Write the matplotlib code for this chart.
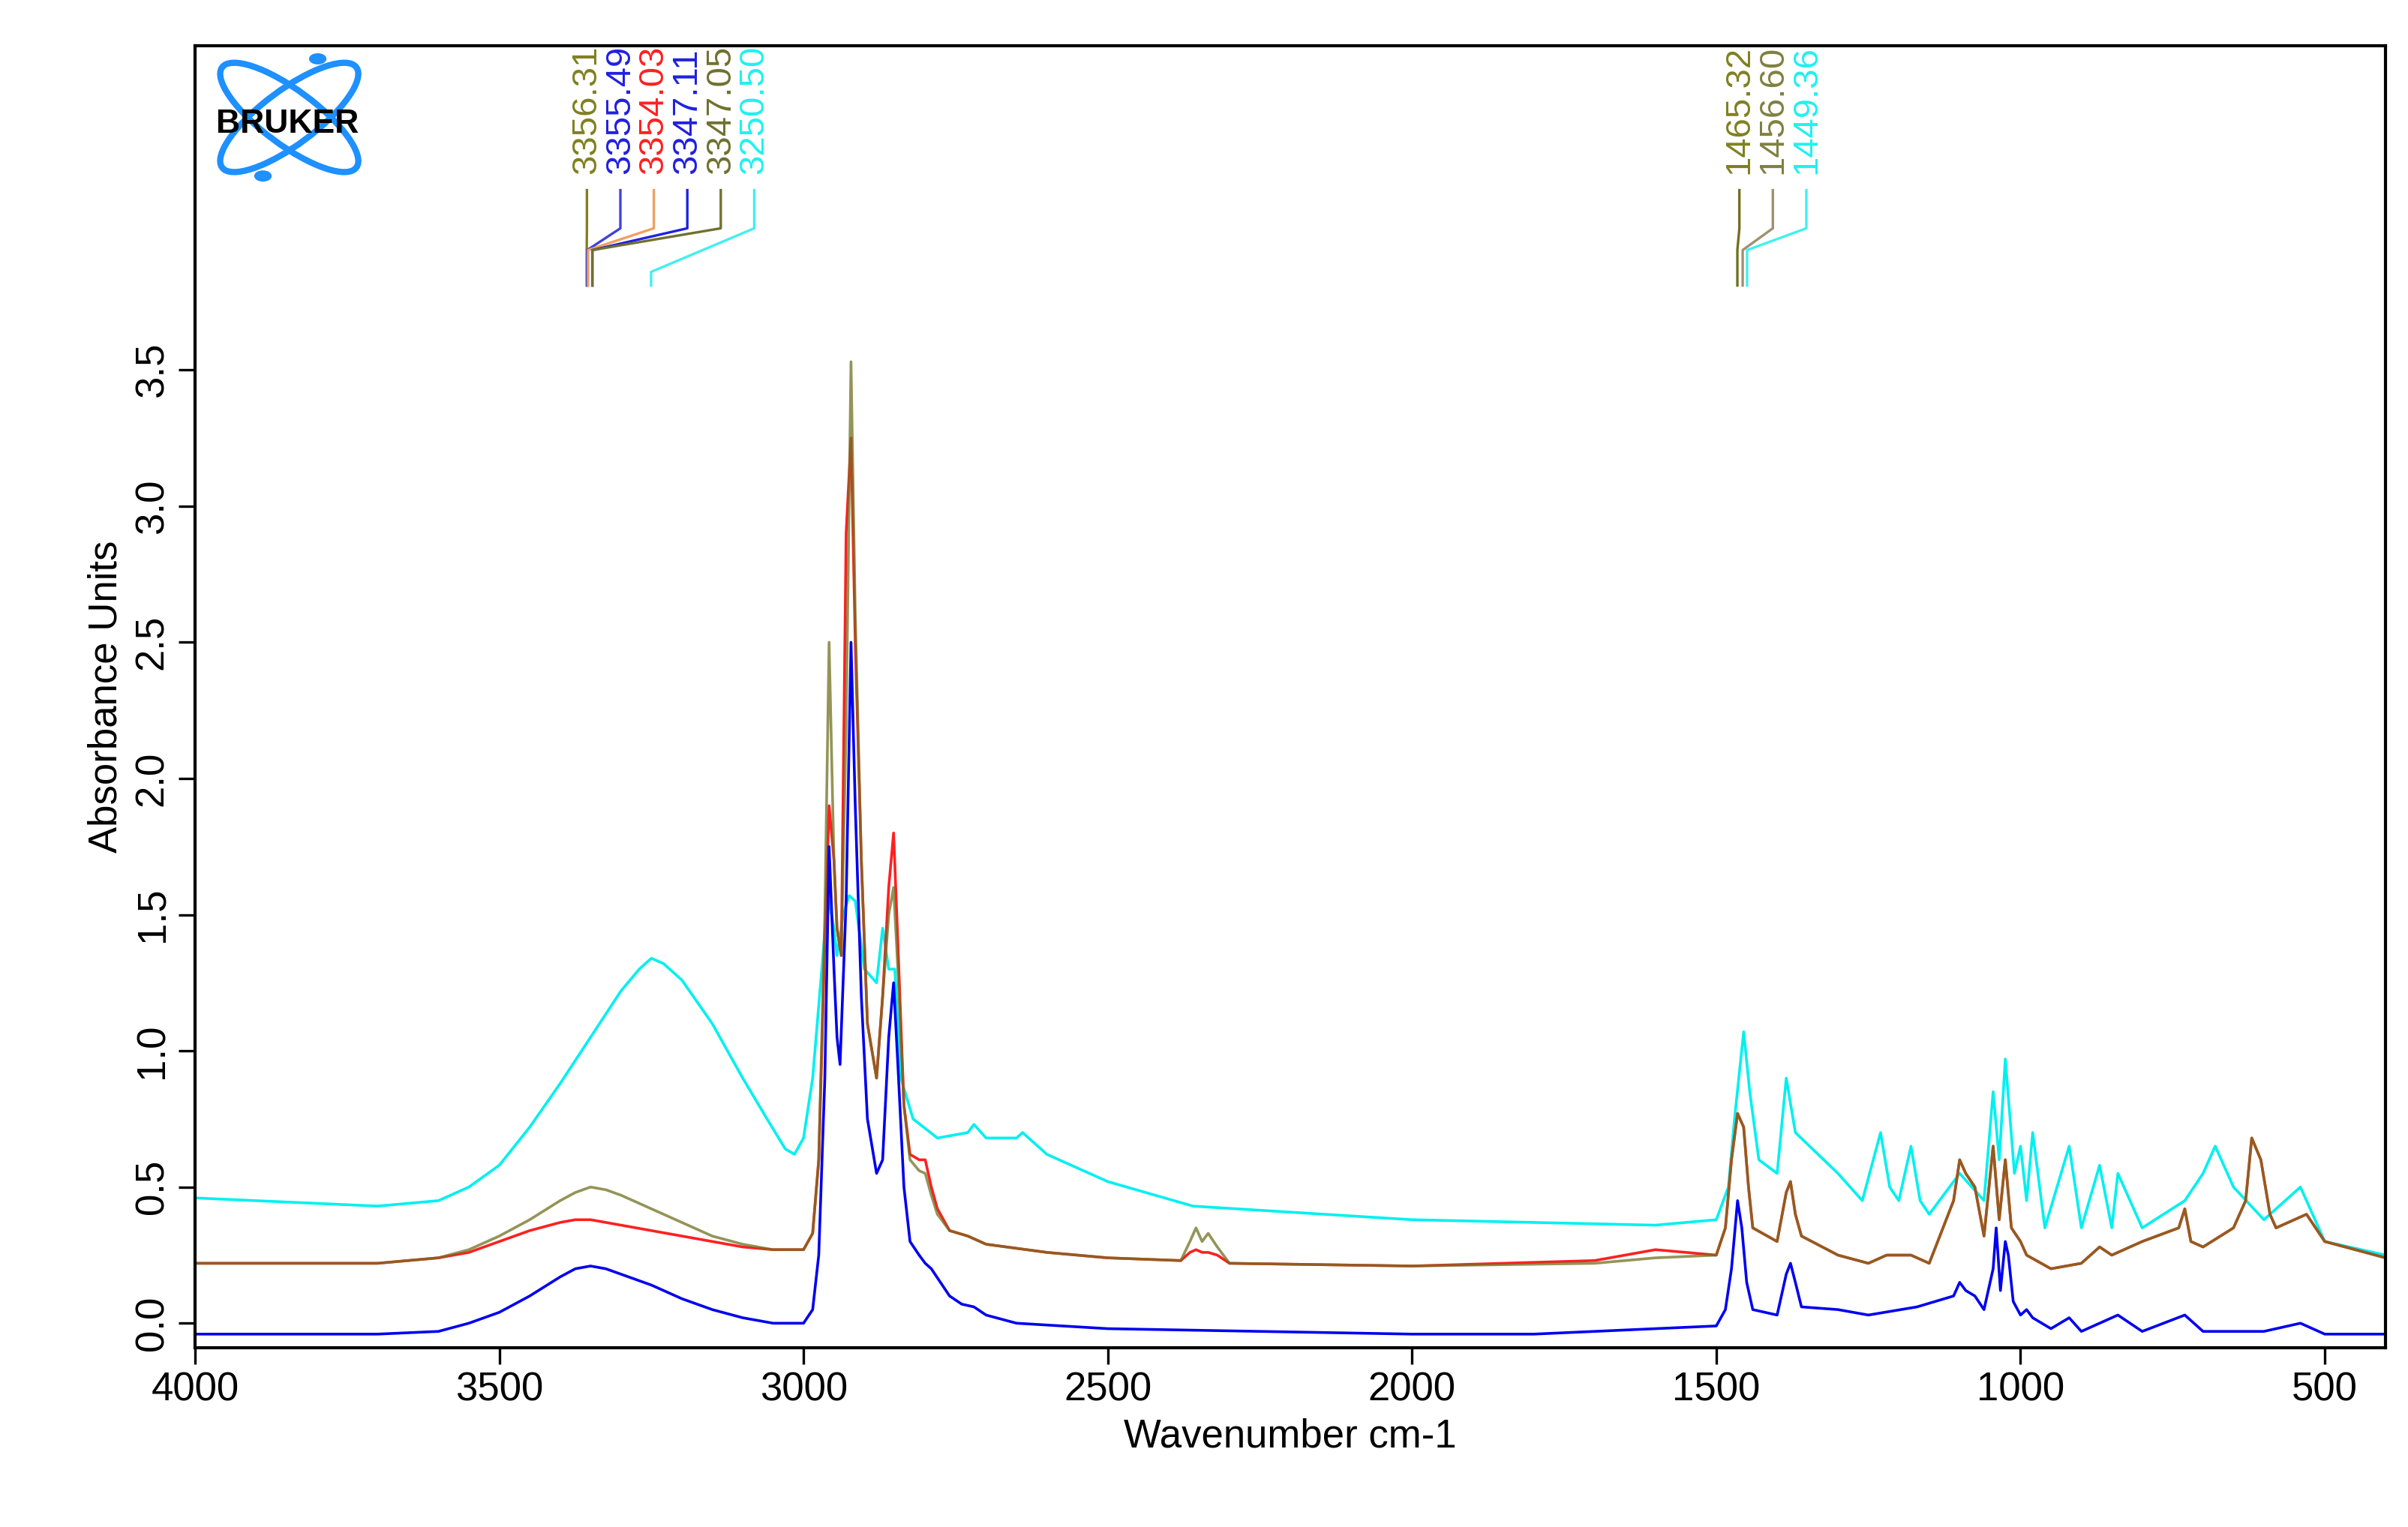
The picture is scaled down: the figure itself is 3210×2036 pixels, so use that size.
import matplotlib
matplotlib.use("Agg")
import matplotlib.pyplot as plt
from matplotlib.patches import Ellipse, Circle

plt.rcParams['font.family'] = ['Liberation Sans', 'DejaVu Sans']

blue_x = [4000,3700,3600,3550,3500,3450,3400,3375,3350,3325,3300,3250,3200,3150,3100,3050,3000,2985,2975,2965,2958,2950,2945,2940,2930,2922,2915,2905,2895,2880,2870,2860,2852,2845,2835,2825,2810,2800,2790,2775,2760,2740,2720,2700,2650,2500,2000,1800,1700,1600,1500,1485,1475,1465,1458,1450,1440,1400,1385,1378,1370,1360,1300,1250,1170,1110,1100,1090,1075,1060,1045,1040,1033,1025,1020,1012,1000,990,980,950,920,900,870,840,800,730,700,600,540,500,400]
blue_y = [-0.04,-0.04,-0.03,0.0,0.04,0.1,0.17,0.2,0.21,0.2,0.18,0.14,0.09,0.05,0.02,0.0,0.0,0.05,0.25,0.9,1.75,1.3,1.05,0.95,1.55,2.5,1.9,1.2,0.75,0.55,0.6,1.05,1.25,0.95,0.5,0.3,0.25,0.22,0.2,0.15,0.1,0.07,0.06,0.03,0.0,-0.02,-0.04,-0.04,-0.03,-0.02,-0.01,0.05,0.2,0.45,0.35,0.15,0.05,0.03,0.18,0.22,0.15,0.06,0.05,0.03,0.06,0.1,0.15,0.12,0.1,0.05,0.2,0.35,0.12,0.3,0.25,0.08,0.03,0.05,0.02,-0.02,0.02,-0.03,0.0,0.03,-0.03,0.03,-0.03,-0.03,0.0,-0.04,-0.04]

olive_x = [4000,3700,3600,3550,3500,3450,3400,3375,3350,3325,3300,3250,3200,3150,3100,3050,3000,2985,2975,2965,2958,2950,2945,2938,2930,2922,2915,2905,2895,2880,2870,2860,2852,2845,2835,2825,2810,2800,2790,2780,2760,2730,2700,2600,2500,2380,2365,2355,2345,2335,2320,2300,2000,1700,1600,1500,1485,1475,1465,1455,1447,1440,1400,1385,1378,1370,1360,1300,1250,1220,1180,1150,1110,1100,1090,1075,1060,1045,1035,1025,1015,1000,990,950,900,870,850,800,740,730,720,700,650,630,620,605,590,580,550,530,500,450,400]
olive_y = [0.22,0.22,0.24,0.27,0.32,0.38,0.45,0.48,0.5,0.49,0.47,0.42,0.37,0.32,0.29,0.27,0.27,0.33,0.6,1.5,2.5,1.7,1.45,1.35,2.2,3.53,2.6,1.7,1.1,0.9,1.2,1.5,1.6,1.3,0.8,0.6,0.56,0.55,0.47,0.4,0.34,0.32,0.29,0.26,0.24,0.23,0.3,0.35,0.3,0.33,0.28,0.22,0.21,0.22,0.24,0.25,0.35,0.6,0.77,0.72,0.5,0.35,0.3,0.48,0.52,0.4,0.32,0.25,0.22,0.25,0.25,0.22,0.45,0.6,0.55,0.5,0.32,0.65,0.38,0.6,0.35,0.3,0.25,0.2,0.22,0.28,0.25,0.3,0.35,0.42,0.3,0.28,0.35,0.45,0.68,0.6,0.4,0.35,0.38,0.4,0.3,0.27,0.24]

red_x = olive_x
red_y = [0.22,0.22,0.24,0.26,0.3,0.34,0.37,0.38,0.38,0.37,0.36,0.34,0.32,0.3,0.28,0.27,0.27,0.33,0.6,1.4,1.9,1.7,1.45,1.35,2.9,3.25,2.5,1.7,1.1,0.9,1.2,1.6,1.8,1.4,0.8,0.62,0.6,0.6,0.5,0.42,0.34,0.32,0.29,0.26,0.24,0.23,0.26,0.27,0.26,0.26,0.25,0.22,0.21,0.23,0.27,0.25,0.35,0.6,0.77,0.72,0.5,0.35,0.3,0.48,0.52,0.4,0.32,0.25,0.22,0.25,0.25,0.22,0.45,0.6,0.55,0.5,0.32,0.65,0.38,0.6,0.35,0.3,0.25,0.2,0.22,0.28,0.25,0.3,0.35,0.42,0.3,0.28,0.35,0.45,0.68,0.6,0.4,0.35,0.38,0.4,0.3,0.27,0.24]

cyan_x = [4000,3700,3600,3550,3500,3450,3400,3350,3300,3270,3250,3230,3200,3150,3100,3060,3030,3015,3000,2985,2970,2960,2950,2945,2935,2925,2915,2900,2880,2870,2860,2850,2840,2820,2780,2730,2720,2700,2650,2640,2600,2500,2360,2000,1600,1500,1480,1470,1455,1445,1430,1400,1385,1370,1300,1260,1230,1215,1200,1180,1165,1150,1100,1060,1045,1035,1025,1010,1000,990,980,960,920,900,870,850,840,800,730,700,680,650,600,540,500,400]
cyan_y = [0.46,0.43,0.45,0.5,0.58,0.72,0.88,1.05,1.22,1.3,1.34,1.32,1.26,1.1,0.9,0.75,0.64,0.62,0.68,0.9,1.3,1.57,1.45,1.35,1.5,1.57,1.55,1.3,1.25,1.45,1.3,1.3,0.9,0.75,0.68,0.7,0.73,0.68,0.68,0.7,0.62,0.52,0.43,0.38,0.36,0.38,0.5,0.75,1.07,0.85,0.6,0.55,0.9,0.7,0.55,0.45,0.7,0.5,0.45,0.65,0.45,0.4,0.55,0.45,0.85,0.6,0.97,0.55,0.65,0.45,0.7,0.35,0.65,0.35,0.58,0.35,0.55,0.35,0.45,0.55,0.65,0.5,0.38,0.5,0.3,0.25]

peak_labels_1 = ['3356.31','3355.49','3354.03','3347.11','3347.05','3250.50']
peak_pos_1 = [3356.31,3355.49,3354.03,3347.11,3347.05,3250.50]
peak_cols_1 = ['#808020','#2020e0','#ff2020','#2020e0','#707030','#20f0f0']
lead_cols_1 = ['#808020','#4040e0','#f0a060','#2020e0','#707030','#40f0f0']
peak_labels_2 = ['1465.32','1456.60','1449.36']
peak_pos_2 = [1465.32,1456.60,1449.36]
peak_cols_2 = ['#808020','#808040','#20f0f0']
lead_cols_2 = ['#707020','#a09070','#40f0f0']

fig = plt.figure(figsize=(16.05, 10.18), dpi=200)
ax = fig.add_axes([0.081, 0.1174, 0.9097, 0.8526])
ax.plot(cyan_x, cyan_y, color='#00f0f0', lw=1.3)
ax.plot(red_x, red_y, color='#ff2020', lw=1.3)
ax.plot(olive_x, olive_y, color='#707020', lw=1.3, alpha=0.75)
ax.plot(blue_x, blue_y, color='#0000f0', lw=1.3)
ax.set_xlim(4000, 400)
ax.set_ylim(-0.09, 4.69)
ax.set_xticks([4000,3500,3000,2500,2000,1500,1000,500])
ax.set_yticks([0.0,0.5,1.0,1.5,2.0,2.5,3.0,3.5])
ax.set_yticklabels(['0.0','0.5','1.0','1.5','2.0','2.5','3.0','3.5'], rotation=90, va='center')
ax.tick_params(labelsize=19, length=8, width=1.2, direction='out')
ax.set_xlabel('Wavenumber cm-1', fontsize=19)
ax.set_ylabel('Absorbance Units', fontsize=19)
for s in ax.spines.values():
    s.set_linewidth(1.5)

def group(labels, pos, cols, lcols, x0):
    for i, (lab, p, c, lc) in enumerate(zip(labels, pos, cols, lcols)):
        xl = x0 - i * 55
        ax.text(xl, 4.22, lab, rotation=90, color=c, fontsize=17, ha='center', va='bottom')
        knee = 3.94 if abs(p - pos[0]) < 50 else 3.86
        ax.plot([xl, xl, p, p], [4.16, 4.02, knee, 3.81], color=lc, lw=1.2)

group(peak_labels_1, peak_pos_1, peak_cols_1, lead_cols_1, 3356)
group(peak_labels_2, peak_pos_2, peak_cols_2, lead_cols_2, 1462)

# Bruker logo
lc = '#1e90ff'
for ang in (35, -35):
    ax.add_patch(Ellipse((0.043, 0.945), 0.032, 0.1, angle=ang, transform=ax.transAxes,
                         fill=False, ec=lc, lw=3))
ax.add_patch(Circle((0.031, 0.9), 0.0035, transform=ax.transAxes, color=lc))
ax.add_patch(Circle((0.056, 0.99), 0.0035, transform=ax.transAxes, color=lc))
ax.text(0.042, 0.94, 'BRUKER', transform=ax.transAxes, ha='center', va='center',
        fontsize=16, fontweight='bold', color='black')

fig.savefig('out.png', dpi=200)
